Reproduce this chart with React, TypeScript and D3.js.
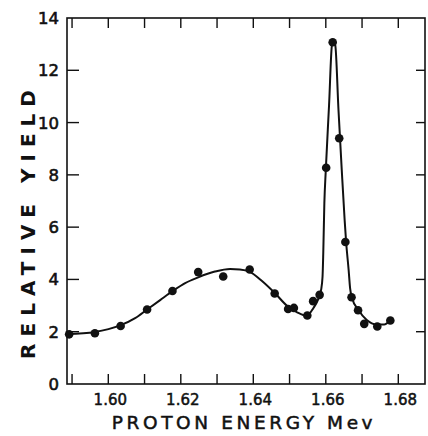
import React from 'react';
import * as d3 from 'd3';

const W = 428;
const H = 436;

// measured data points (Mev, relative yield)
const energy = [1.5892, 1.5963, 1.6034, 1.6107, 1.6177, 1.6248, 1.6317, 1.639, 1.6459, 1.6496, 1.6512, 1.6549, 1.6565, 1.6583, 1.6601, 1.6619, 1.6637, 1.6654, 1.6671, 1.6689, 1.6706, 1.6742, 1.6778];
const yieldVals = [1.9, 1.94, 2.22, 2.85, 3.56, 4.28, 4.11, 4.38, 3.46, 2.87, 2.91, 2.62, 3.17, 3.41, 8.27, 13.07, 9.4, 5.43, 3.32, 2.82, 2.3, 2.2, 2.43];

// drawn fitted curve
const curveX = [1.5886, 1.5963, 1.6034, 1.6074, 1.6107, 1.6143, 1.6178, 1.6212, 1.6248, 1.6294, 1.6336, 1.6363, 1.6389, 1.6424, 1.646, 1.6494, 1.6521, 1.6547, 1.6566, 1.6578, 1.6587, 1.6591, 1.6593, 1.6596, 1.66, 1.6609, 1.6617, 1.6621, 1.6626, 1.6635, 1.6644, 1.6652, 1.6656, 1.6663, 1.6667, 1.6672, 1.669, 1.6713, 1.674, 1.6761, 1.6777];
const curveY = [1.91, 1.99, 2.25, 2.52, 2.85, 3.21, 3.56, 3.86, 4.08, 4.3, 4.4, 4.38, 4.3, 3.94, 3.47, 2.98, 2.74, 2.61, 2.91, 3.21, 3.6, 4.1, 5.0, 6.91, 8.19, 10.67, 12.97, 13.08, 12.97, 10.48, 8.19, 6.27, 5.44, 4.36, 3.67, 3.31, 2.83, 2.45, 2.28, 2.28, 2.41];

const xTicks = [1.59, 1.6, 1.61, 1.62, 1.63, 1.64, 1.65, 1.66, 1.67, 1.68];
const xLabels = ['1.60', '1.62', '1.64', '1.66', '1.68'];
const yTicks = [0, 2, 4, 6, 8, 10, 12, 14];

const left = 67, right = 425, top = 18, bottom = 384;

export default function App() {
  const x = d3.scaleLinear().domain([1.6, 1.68]).range([108.3, 398.3]);
  const y = d3.scaleLinear().domain([0, 14]).range([bottom, top]);
  const pts = curveX.map((v, i) => [v, curveY[i]] as [number, number]);
  const line = d3.line<[number, number]>()
    .x(d => x(d[0]))
    .y(d => y(d[1]))
    .curve(d3.curveMonotoneX);
  const tickLen = 10;
  const innerX = xTicks.filter(t => x(t) > left + 2 && x(t) < right - 2);
  const numFont = '"DejaVu Sans", sans-serif';
  return (
    <svg width={W} height={H} style={{ position: 'absolute', left: 0, top: 0, background: '#fff' }}>
      <rect x={0} y={0} width={W} height={H} fill="#fff" />
      <rect x={left} y={top} width={right - left} height={bottom - top} fill="none" stroke="#111" strokeWidth={1.6} />
      {innerX.map((t, i) => (
        <g key={'xt' + i}>
          <line x1={x(t)} x2={x(t)} y1={bottom} y2={bottom - tickLen} stroke="#111" strokeWidth={1.4} />
          <line x1={x(t)} x2={x(t)} y1={top} y2={top + tickLen} stroke="#111" strokeWidth={1.4} />
        </g>
      ))}
      {yTicks.filter(t => t > 0 && t < 14).map((t, i) => (
        <g key={'yt' + i}>
          <line x1={left} x2={left + 12} y1={y(t)} y2={y(t)} stroke="#111" strokeWidth={1.4} />
          <line x1={right} x2={right - 9} y1={y(t)} y2={y(t)} stroke="#111" strokeWidth={1.4} />
        </g>
      ))}
      {yTicks.map((t, i) => (
        <text key={'yl' + i} x={59} y={y(t) + 6} textAnchor="end" fontFamily={numFont} fontSize={16.5} stroke="#111" strokeWidth={0.6} fill="#111">{t}</text>
      ))}
      {xLabels.map((t, i) => (
        <text key={'xl' + i} x={x(+t) + 2} y={405} textAnchor="middle" fontFamily={numFont} fontSize={15} stroke="#111" strokeWidth={0.5} fill="#111">{t}</text>
      ))}
      <path d={line(pts) || ''} fill="none" stroke="#111" strokeWidth={2} />
      {energy.map((e, i) => (
        <circle key={'p' + i} cx={x(e)} cy={y(yieldVals[i])} r={4.3} fill="#111" />
      ))}
      <text x={244} y={429} textAnchor="middle" fontFamily={numFont} fontSize={18.5} letterSpacing={3.6} stroke="#111" strokeWidth={0.5} fill="#111">PROTON ENERGY Mev</text>
      <text transform={`translate(35,221) rotate(-90)`} textAnchor="middle" fontFamily={numFont} fontSize={20} fontWeight="bold" letterSpacing={7} fill="#111">RELATIVE YIELD</text>
    </svg>
  );
}
